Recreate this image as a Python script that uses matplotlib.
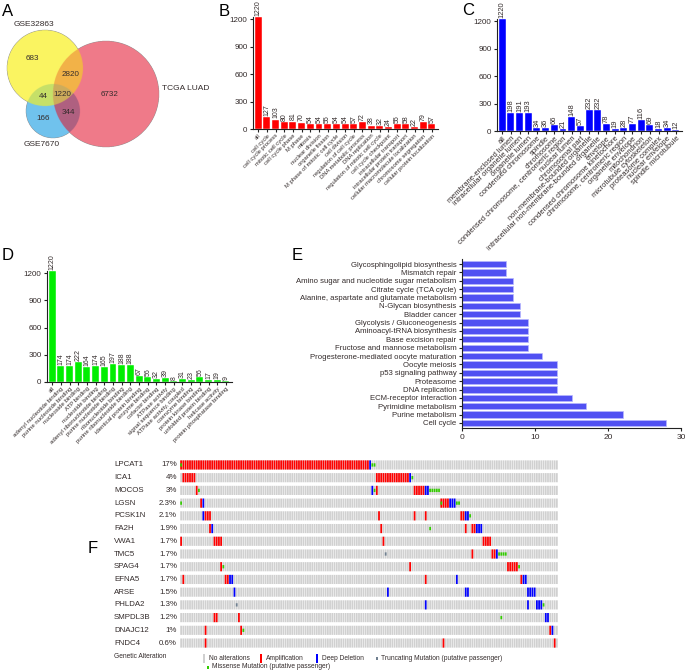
import numpy as np
import matplotlib
matplotlib.use('Agg')
import matplotlib.pyplot as plt
from matplotlib.patches import Rectangle
from matplotlib.transforms import blended_transform_factory, Bbox

plt.rcParams['font.family'] = ['Liberation Sans', 'DejaVu Sans']
TXT = '#332b2b'
SP = '#222222'

# ---------------- data ----------------
venn_labels = ['GSE32863', 'TCGA LUAD', 'GSE7670']
venn_only_gse32863 = 683
venn_only_tcga = 6732
venn_only_gse7670 = 166
venn_gse32863_tcga = 2820
venn_gse32863_gse7670 = 44
venn_tcga_gse7670 = 344
venn_all = 1220

bp_terms = ['all', 'cell cycle', 'cell cycle process', 'mitotic cell cycle', 'cell cycle phase',
            'M phase', 'mitosis', 'nuclear division', 'organelle fission',
            'M phase of mitotic cell cycle', 'cell division', 'regulation of cell cycle',
            'DNA metabolic process', 'DNA replication', 'regulation of mitotic cell cycle',
            'cell cycle checkpoint', 'intracellular transport', 'intracellular protein transport',
            'cellular macromolecule localization', 'chromosome segregation',
            'cellular protein localization']
bp_counts = [1220, 127, 103, 80, 81, 70, 54, 54, 55, 54, 54, 57, 72, 38, 32, 24, 55, 58, 22, 79, 57]

cc_terms = ['all', 'membrane-enclosed lumen', 'intracellular organelle lumen', 'organelle lumen',
            'condensed chromosome', 'spindle', 'chromosome',
            'condensed chromosome, centromeric region', 'nuclear lumen', 'chromosomal part',
            'non-membrane-bounded organelle', 'intracellular non-membrane-bounded organelle',
            'envelope', 'condensed chromosome kinetochore', 'chromosome, centromeric region',
            'organelle envelope', 'mitochondrion', 'microtubule cytoskeleton',
            'proteasome complex', 'nuclear envelope', 'spindle microtubule']
cc_counts = [1220, 198, 191, 193, 34, 36, 66, 21, 148, 57, 232, 232, 78, 19, 28, 77, 116, 69, 18, 34, 12]

mf_terms = ['all', 'adenyl nucleotide binding', 'purine nucleoside binding', 'nucleoside binding',
            'ATP binding', 'nucleotide binding', 'adenyl ribonucleotide binding',
            'purine nucleotide binding', 'ribonucleotide binding', 'purine ribonucleotide binding',
            'identical protein binding', 'enzyme binding', 'cofactor binding', 'ATPase activity',
            'signal sequence binding', 'ATPase activity, coupled', 'coenzyme binding',
            'protein kinase binding', 'unfolded protein binding', 'helicase activity',
            'protein phosphatase binding']
mf_counts = [1220, 174, 174, 222, 164, 174, 165, 197, 188, 188, 67, 56, 32, 39, 8, 31, 23, 56, 17, 19, 9]

kegg_terms = ['Glycosphingolipid biosynthesis', 'Mismatch repair',
              'Amino sugar and nucleotide sugar metabolism', 'Citrate cycle (TCA cycle)',
              'Alanine, aspartate and glutamate metabolism', 'N-Glycan biosynthesis',
              'Bladder cancer', 'Glycolysis / Gluconeogenesis', 'Aminoacyl-tRNA biosynthesis',
              'Base excision repair', 'Fructose and mannose metabolism',
              'Progesterone-mediated oocyte maturation', 'Oocyte meiosis',
              'p53 signaling pathway', 'Proteasome', 'DNA replication',
              'ECM-receptor interaction', 'Pyrimidine metabolism', 'Purine metabolism',
              'Cell cycle']
kegg_counts = [6, 6, 7, 7, 7, 8, 8, 9, 9, 9, 9, 11, 13, 13, 13, 13, 15, 17, 22, 28]

n_samples = 170
genes = ['LPCAT1', 'ICA1', 'MOCOS', 'LGSN', 'PCSK1N', 'FA2H', 'VWA1', 'TMC5', 'SPAG4',
         'EFNA5', 'ARSE', 'PHLDA2', 'SMPDL3B', 'DNAJC12', 'FNDC4']
gene_pcts = ['17%', '4%', '3%', '2.3%', '2.1%', '1.9%', '1.7%', '1.7%', '1.7%', '1.7%',
             '1.5%', '1.3%', '1.2%', '1%', '0.6%']
# (alteration type, first sample, last sample)
alterations = {
    'LPCAT1': [('amp', 0, 84), ('del', 85, 85), ('mis', 0, 0), ('mis', 86, 87)],
    'ICA1': [('amp', 1, 6), ('amp', 88, 102), ('del', 103, 103), ('mis', 104, 104)],
    'MOCOS': [('amp', 7, 7), ('mis', 8, 8), ('del', 86, 86), ('mis', 87, 87), ('amp', 88, 88),
              ('amp', 105, 109), ('del', 110, 111), ('mis', 112, 116)],
    'LGSN': [('mis', 0, 0), ('amp', 9, 9), ('del', 10, 10), ('amp', 117, 120), ('mis', 117, 117),
             ('del', 121, 123), ('mis', 124, 125)],
    'PCSK1N': [('del', 10, 10), ('amp', 11, 13), ('amp', 89, 89), ('amp', 105, 105),
               ('amp', 110, 110), ('amp', 126, 127), ('del', 128, 129), ('mis', 130, 130)],
    'FA2H': [('amp', 13, 13), ('del', 14, 14), ('amp', 90, 90), ('mis', 112, 112),
             ('amp', 128, 128), ('amp', 131, 132), ('del', 133, 135)],
    'VWA1': [('amp', 0, 0), ('amp', 15, 18), ('amp', 91, 91), ('amp', 136, 139)],
    'TMC5': [('trunc', 92, 92), ('amp', 131, 131), ('amp', 140, 141), ('del', 142, 142),
             ('mis', 143, 146)],
    'SPAG4': [('amp', 18, 18), ('mis', 19, 19), ('amp', 103, 103), ('amp', 147, 151),
              ('mis', 152, 152)],
    'EFNA5': [('amp', 1, 1), ('amp', 20, 21), ('del', 22, 23), ('amp', 110, 110),
              ('del', 124, 124), ('amp', 153, 153), ('del', 154, 155)],
    'ARSE': [('del', 24, 24), ('del', 93, 93), ('del', 128, 129), ('del', 156, 159)],
    'PHLDA2': [('trunc', 25, 25), ('del', 110, 110), ('del', 156, 156), ('del', 160, 162),
               ('mis', 163, 163)],
    'SMPDL3B': [('amp', 15, 16), ('amp', 26, 26), ('mis', 144, 144), ('del', 164, 165)],
    'DNAJC12': [('amp', 11, 11), ('amp', 27, 27), ('mis', 28, 28), ('amp', 166, 166),
                ('del', 167, 167)],
    'FNDC4': [('amp', 11, 11), ('amp', 118, 118), ('amp', 168, 168)],
}
alt_colors = {'amp': '#ff0000', 'del': '#0000ff', 'mis': '#33cc00', 'trunc': '#708090'}
legend_items = ['No alterations', 'Amplification', 'Deep Deletion',
                'Truncating Mutation (putative passenger)', 'Missense Mutation (putative passenger)']

# ---------------- figure ----------------
W, H = 685, 671
fig = plt.figure(figsize=(W / 100, H / 100), dpi=100)


def px_axes(l, t, r, b):
    return fig.add_axes([l / W, 1 - b / H, (r - l) / W, (b - t) / H])


def style(ax):
    for s in ['top', 'right']:
        ax.spines[s].set_visible(False)
    for s in ['left', 'bottom']:
        ax.spines[s].set_color(SP)
        ax.spines[s].set_linewidth(0.8)
    ax.tick_params(colors=SP, labelcolor=TXT, width=0.8, length=2.5, pad=1.5)


def go_bar(box, terms, counts, color, lab_fs, val_fs):
    ax = px_axes(*box)
    x = np.arange(len(terms))
    ax.bar(x, counts, width=0.8, color=color, edgecolor='white', linewidth=0.3)
    ax.set_xlim(-0.6, len(terms) - 0.3)
    ax.set_ylim(0, 1220)
    ax.set_yticks([0, 300, 600, 900, 1200])
    style(ax)
    ax.tick_params(axis='y', labelsize=5.8)
    ax.tick_params(axis='x', length=2, pad=1)
    for xi, v in zip(x, counts):
        ax.text(xi, v + 12, str(v), rotation=90, ha='center', va='bottom',
                fontsize=val_fs, color=TXT)
    ax.set_xticks(x)
    ax.set_xticklabels(terms, rotation=45, ha='right', rotation_mode='anchor',
                       fontsize=lab_fs, color=TXT)
    return ax


axB = go_bar((253, 17.2, 438, 129), bp_terms, bp_counts, '#ff0000', 4.2, 5.0)
axC = go_bar((497, 19.2, 682, 131), cc_terms, cc_counts, '#0000ff', 5.4, 5.4)
axD = go_bar((47, 271.2, 232, 382), mf_terms, mf_counts, '#00ee00', 4.3, 5.0)

clip = Bbox.from_extents(446, 0, 685, 671)
for lab in axC.get_xticklabels():
    lab.set_clip_on(True)
    lab.set_clip_box(clip)

# ---- E: KEGG ----
axE = px_axes(462, 259, 681, 428)
yE = np.arange(len(kegg_terms))
axE.barh(yE, kegg_counts, height=0.75, color='#5050f2', edgecolor='#b8b8ff', linewidth=0.5)
axE.set_ylim(len(kegg_terms) - 0.4, -0.6)
axE.set_xlim(0, 30)
axE.set_xticks([0, 10, 20, 30])
axE.set_yticks(yE)
axE.set_yticklabels(kegg_terms, fontsize=5.6)
style(axE)
axE.tick_params(axis='x', labelsize=6)

# ---- F: oncoprint ----
axF = px_axes(180, 458.6, 558, 649.4)
axF.set_xlim(0, n_samples)
axF.set_ylim(len(genes) - 0.5, -0.5)
axF.axis('off')
cols = np.arange(n_samples) + 0.5
BW = 0.78


def strip(xs, h, bottom, color):
    bars = axF.bar(xs, h, bottom=bottom, width=BW, color=color, linewidth=0)
    for p in bars:
        p.set_snap(False)


for r, g in enumerate(genes):
    strip(cols, 0.72, r - 0.36, '#d0d0d0')
    for kind, a, b in alterations[g]:
        if kind in ('amp', 'del'):
            strip(np.arange(a, b + 1) + 0.5, 0.72, r - 0.36, alt_colors[kind])
    for kind, a, b in alterations[g]:
        if kind in ('mis', 'trunc'):
            strip(np.arange(a, b + 1) + 0.5, 0.26, r - 0.13, alt_colors[kind])

# ---- overlay (Venn, letters, legend) ----
ov = fig.add_axes([0, 0, 1, 1], zorder=10)
ov.set_xlim(0, W)
ov.set_ylim(H, 0)
ov.axis('off')
ov.patch.set_visible(False)

# Venn diagram raster
step = 0.25
gx, gy = np.meshgrid(np.arange(0, 230, step) + step / 2, np.arange(0, 180, step) + step / 2)
inY = (gx - 45) ** 2 + (gy - 68) ** 2 <= 38 ** 2
inR = (gx - 106) ** 2 + (gy - 94) ** 2 <= 53 ** 2
inB = (gx - 53) ** 2 + (gy - 111) ** 2 <= 27 ** 2
img = np.zeros(gx.shape + (4,))
region_cols = [
    (inY & ~inR & ~inB, (250, 244, 98)),
    (inR & ~inY & ~inB, (240, 122, 137)),
    (inB & ~inY & ~inR, (112, 194, 238)),
    (inY & inR & ~inB, (242, 178, 72)),
    (inY & inB & ~inR, (198, 224, 104)),
    (inR & inB & ~inY, (176, 96, 128)),
    (inY & inR & inB, (205, 172, 92)),
]
for m, c in region_cols:
    img[m, :3] = np.array(c) / 255
    img[m, 3] = 1
ov.imshow(img, extent=(0, 230, 180, 0), interpolation='antialiased', aspect='auto', zorder=1)
ov.set_xlim(0, W)
ov.set_ylim(H, 0)

vfs = 5.8
ov.text(34, 25, venn_labels[0], fontsize=6, color=TXT, ha='center', va='center')
ov.text(162, 88, venn_labels[1], fontsize=6, color=TXT, ha='left', va='center')
ov.text(42, 144, venn_labels[2], fontsize=6, color=TXT, ha='center', va='center')
for (x, y), v in [((32, 59), venn_only_gse32863), ((71, 74), venn_gse32863_tcga),
                  ((62, 94), venn_all), ((43, 97), venn_gse32863_gse7670),
                  ((110, 94), venn_only_tcga), ((43, 119), venn_only_gse7670),
                  ((68, 112), venn_tcga_gse7670)]:
    ov.text(x, y, str(v), fontsize=vfs, color=TXT, ha='center', va='center')

# panel letters
for lab, x, y in [('A', 2, 16), ('B', 219, 16), ('C', 462, 15), ('D', 2, 260),
                  ('E', 292, 260), ('F', 88, 553)]:
    ov.text(x, y, lab, fontsize=12, color='black', ha='left', va='baseline')

# oncoprint labels
trF = blended_transform_factory(ov.transData, axF.transData)
for r, (g, p) in enumerate(zip(genes, gene_pcts)):
    axF.text(114, r, g, transform=trF, fontsize=5.7, color=TXT, ha='left', va='center',
             clip_on=False)
    axF.text(177, r, p, transform=trF, fontsize=5.7, color=TXT, ha='right', va='center',
             clip_on=False)

# legend
ov.text(114, 657, 'Genetic Alteration', fontsize=4.8, color=TXT, ha='left', va='center')
ov.add_patch(Rectangle((203.5, 653.5), 1.6, 9, color='#d0d0d0', lw=0))
ov.text(209, 658, legend_items[0], fontsize=4.8, color=TXT, ha='left', va='center')
ov.add_patch(Rectangle((260.5, 653.5), 1.6, 9, color=alt_colors['amp'], lw=0))
ov.text(266, 658, legend_items[1], fontsize=4.8, color=TXT, ha='left', va='center')
ov.add_patch(Rectangle((316.5, 653.5), 1.6, 9, color=alt_colors['del'], lw=0))
ov.text(322, 658, legend_items[2], fontsize=4.8, color=TXT, ha='left', va='center')
ov.add_patch(Rectangle((376, 656.5), 1.6, 3, color=alt_colors['trunc'], lw=0))
ov.text(381, 658, legend_items[3], fontsize=4.8, color=TXT, ha='left', va='center')
ov.add_patch(Rectangle((207, 665.5), 1.6, 3, color=alt_colors['mis'], lw=0))
ov.text(212, 667, legend_items[4], fontsize=4.8, color=TXT, ha='left', va='center')

fig.savefig('out.png', dpi=100)
